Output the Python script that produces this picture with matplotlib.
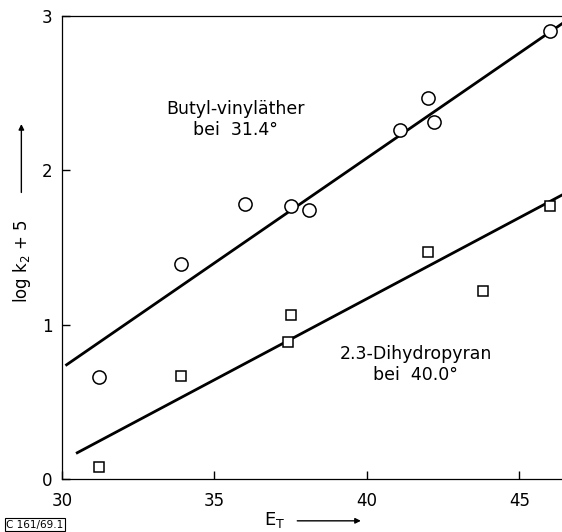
import numpy as np
import matplotlib.pyplot as plt

# Butyl-vinylaether (Kreise)
et_butyl = [31.2, 33.9, 36.0, 37.5, 38.1, 41.1, 42.0, 42.2, 46.0]
logk_butyl = [0.66, 1.39, 1.78, 1.77, 1.74, 2.26, 2.47, 2.31, 2.90]
fit_butyl_x = [30.15, 46.4]
fit_butyl_y = [0.74, 2.95]

# 2,3-Dihydropyran (Quadrate)
et_dhp = [31.2, 33.9, 37.5, 37.4, 42.0, 43.8, 46.0]
logk_dhp = [0.08, 0.67, 1.06, 0.89, 1.47, 1.22, 1.77]
fit_dhp_x = [30.5, 46.4]
fit_dhp_y = [0.17, 1.84]

xticks = [30, 35, 40, 45]
yticks = [0, 1, 2, 3]

plt.rcParams['font.family'] = ['DejaVu Sans']
fig = plt.figure(figsize=(5.62, 5.32), dpi=100)
ax = fig.add_axes([62 / 562, 1 - 479 / 532, 500 / 562, 463 / 532])

ax.plot(fit_butyl_x, fit_butyl_y, '-', color='black', lw=2)
ax.plot(fit_dhp_x, fit_dhp_y, '-', color='black', lw=2)
ax.plot(et_butyl, logk_butyl, 'o', ms=9.5, mfc='white', mec='black', mew=1.1)
ax.plot(et_dhp, logk_dhp, 's', ms=7.5, mfc='white', mec='black', mew=1.1)

ax.set_xlim(30, 46.4)
ax.set_ylim(0, 3)
ax.set_xticks(xticks)
ax.set_yticks(yticks)
ax.tick_params(direction='in', length=6, width=1, labelsize=12)
ax.tick_params(axis='x', pad=9)
ax.tick_params(axis='y', pad=7)
ax.spines['right'].set_visible(False)
for s in ['left', 'top', 'bottom']:
    ax.spines[s].set_linewidth(0.9)

ax.text(35.7, 2.33, 'Butyl-vinyläther\nbei  31.4°', ha='center', va='center',
        fontsize=12.5, linespacing=1.2)
ax.text(41.6, 0.74, '2.3-Dihydropyran\nbei  40.0°', ha='center', va='center',
        fontsize=12.5, linespacing=1.2)

# Achsenbeschriftungen mit Pfeilen
fig.text(0.039, 0.51, 'log k$_2$ + 5', rotation=90, ha='center', va='center', fontsize=12)
ax.annotate('', xy=(0.038, 0.772), xytext=(0.038, 0.633), xycoords='figure fraction',
            arrowprops=dict(arrowstyle='-|>', lw=1, color='black', mutation_scale=8))
fig.text(0.488, 0.022, 'E$_\\mathrm{T}$', ha='center', va='center', fontsize=13)
ax.annotate('', xy=(0.647, 0.021), xytext=(0.524, 0.021), xycoords='figure fraction',
            arrowprops=dict(arrowstyle='-|>', lw=1, color='black', mutation_scale=8))

fig.text(0.062, 0.014, 'C 161/69.1', ha='center', va='center', fontsize=7.5,
         bbox=dict(boxstyle='square,pad=0.15', fc='white', ec='black', lw=0.8))

fig.savefig('out.png', dpi=100)
